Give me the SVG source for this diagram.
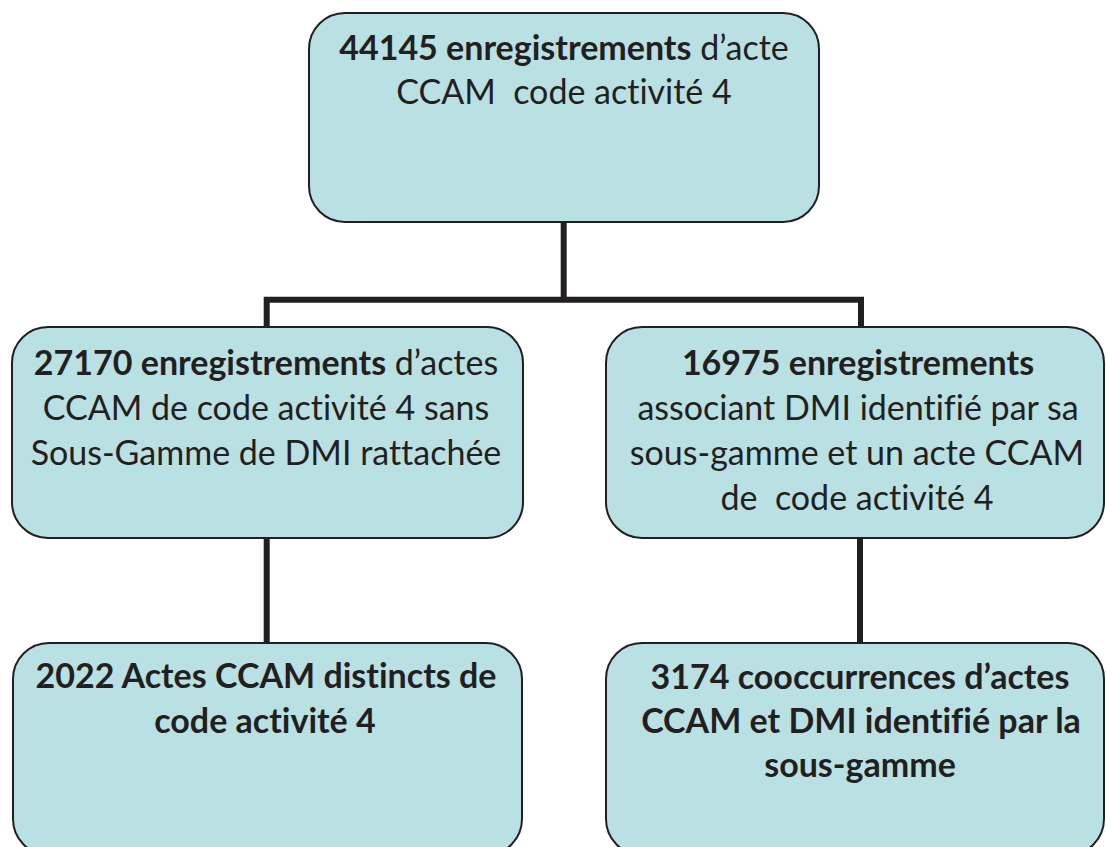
<svg xmlns="http://www.w3.org/2000/svg" width="1106" height="847" viewBox="0 0 1106 847">
<style>
.box{fill:#b9e0e3;stroke:#231f20;stroke-width:2}
.con{stroke:#231f20;stroke-width:6;fill:none}
text{font-family:Lato,"Open Sans","Liberation Sans",sans-serif;font-size:34px;fill:#231f20;text-anchor:middle;white-space:pre;font-variant-ligatures:none}
.b{font-weight:bold}
</style>
<rect width="1106" height="847" fill="#ffffff"/>
<g id="connectors">
<path class="con" d="M563.7,222 V299.7 M264,299.7 H864 M266.7,297 V328 M861,297 V328 M266.7,538 V644 M860,538 V644"/>
</g>
<g id="n1">
<rect class="box" x="309" y="13" width="510" height="209" rx="36"/>
<text x="564" y="60"><tspan class="b">44145 enregistrements</tspan> d’acte</text>
<text x="564" y="104" xml:space="preserve">CCAM  code activité 4</text>
</g>
<g id="n2">
<rect class="box" x="12" y="327" width="511" height="211" rx="36"/>
<text x="266" y="375"><tspan class="b">27170 enregistrements</tspan> d’actes</text>
<text x="266" y="420">CCAM de code activité 4 sans</text>
<text x="266" y="465">Sous-Gamme de DMI rattachée</text>
</g>
<g id="n3">
<rect class="box" x="606" y="327" width="498" height="211" rx="36"/>
<text x="858" y="375" class="b">16975 enregistrements</text>
<text x="858" y="420">associant DMI identifié par sa</text>
<text x="857" y="465">sous-gamme et un acte CCAM</text>
<text x="857" y="510" xml:space="preserve">de  code activité 4</text>
</g>
<g id="n4">
<rect class="box" x="13" y="643" width="509" height="212" rx="36"/>
<text x="266" y="688" class="b">2022 Actes CCAM distincts de</text>
<text x="265" y="733" class="b">code activité 4</text>
</g>
<g id="n5">
<rect class="box" x="606" y="643" width="498" height="212" rx="36"/>
<text x="860" y="689" class="b">3174 cooccurrences d’actes</text>
<text x="861" y="733" class="b">CCAM et DMI identifié par la</text>
<text x="860" y="777" class="b">sous-gamme</text>
</g>
</svg>
